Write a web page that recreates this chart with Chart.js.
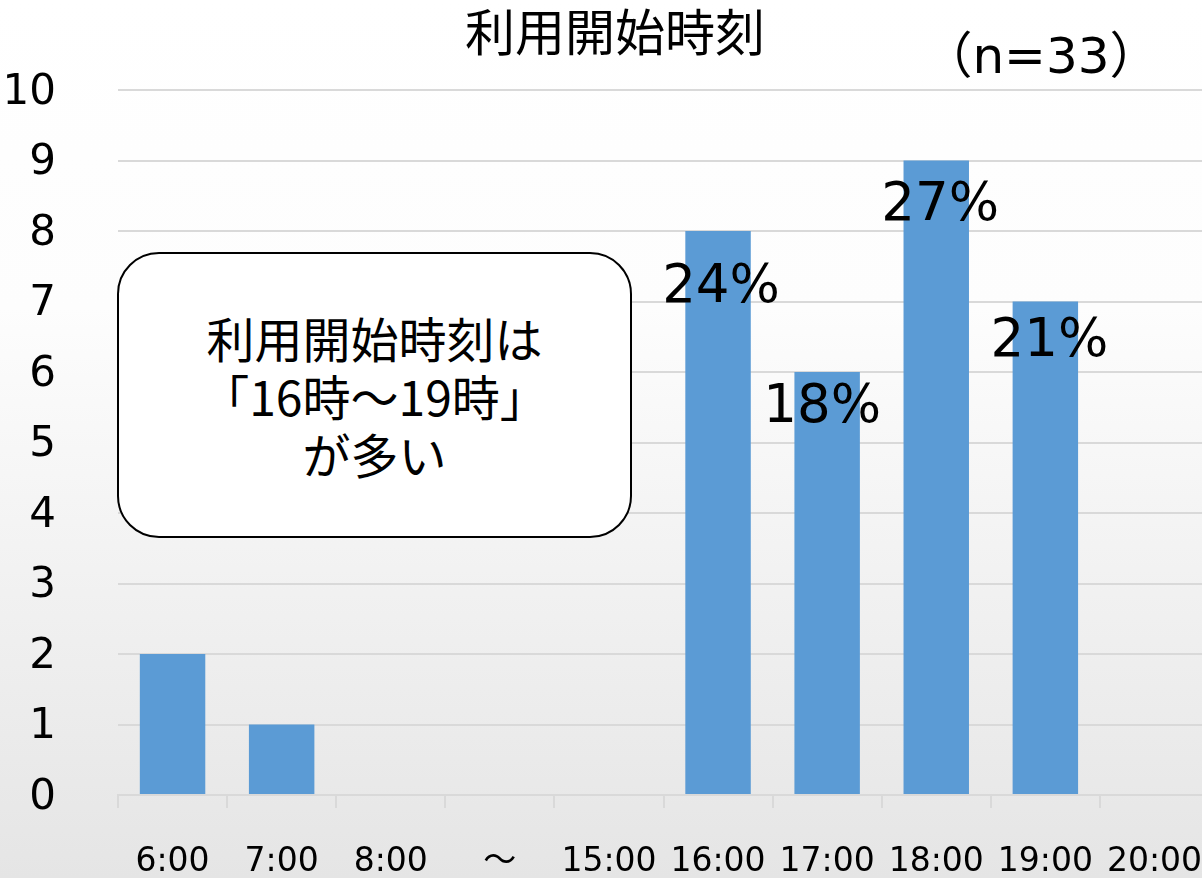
<!DOCTYPE html>
<html lang="ja">
<head>
<meta charset="utf-8">
<script src="https://cdn.jsdelivr.net/npm/chart.js@4.4.1/dist/chart.umd.min.js"></script>
<style>
  html, body { margin: 0; padding: 0; overflow: hidden; }
  #wrap {
    position: relative;
    width: 1202px;
    height: 878px;
    overflow: hidden;
    background: linear-gradient(to bottom, #ffffff 0%, #fdfdfd 35%, #e5e5e5 100%);
  }
  #box {
    position: absolute;
    left: 117px;
    top: 252px;
    width: 511px;
    height: 282px;
    border: 2px solid #000;
    border-radius: 42px;
    background: #fff;
    display: flex;
    align-items: center;
    justify-content: center;
    text-align: center;
    font-family: "Noto Sans CJK JP", sans-serif;
    font-size: 48px;
    line-height: 58px;
    color: #000;
  }
</style>
</head>
<body>
<div id="wrap">
  <canvas id="chart" width="1220" height="878" style="position:absolute;left:0;top:0;width:1220px;height:878px;"></canvas>
  <div id="box"><div>利用開始時刻は<br>「16時～19時」<br>が多い</div></div>
</div>
<script>
// データ
const labels = ['6:00', '7:00', '8:00', '～', '15:00', '16:00', '17:00', '18:00', '19:00', '20:00'];
const counts = [2, 1, 0, 0, 0, 8, 6, 9, 7, 0];
const pctLabels = ['', '', '', '', '', '24%', '18%', '27%', '21%', ''];
const yTicks = [0, 1, 2, 3, 4, 5, 6, 7, 8, 9, 10];

const titleText = '利用開始時刻';
const nText = '（n=33）';

// ラベルの微調整（px）
const labelShift = {5: [3, 71], 6: [-5, 50], 7: [4, 59], 8: [4, 54]};

const gridColor = '#d9d9d9';
const latin = '"DejaVu Sans", "Noto Sans CJK JP", sans-serif';

const extraText = {
  id: 'extraText',
  afterDatasetsDraw(chart) {
    const ctx = chart.ctx;
    const meta = chart.getDatasetMeta(0);
    ctx.save();
    ctx.fillStyle = '#000';
    ctx.textAlign = 'center';
    ctx.textBaseline = 'alphabetic';
    ctx.font = '53px ' + latin;
    meta.data.forEach((bar, i) => {
      if (!pctLabels[i]) return;
      const s = labelShift[i] || [0, 50];
      ctx.fillText(pctLabels[i], bar.x + s[0], bar.y + s[1]);
    });
    ctx.font = '50px "Noto Sans CJK JP", sans-serif';
    ctx.fillText(titleText, 615, 51);
    ctx.font = '50px ' + latin;
    ctx.fillText(nText, 1041, 73);
    ctx.restore();
  }
};

new Chart(document.getElementById('chart'), {
  type: 'bar',
  data: {
    labels: labels,
    datasets: [{
      data: counts,
      backgroundColor: '#5B9BD5',
      barPercentage: 0.6,
      categoryPercentage: 1.0
    }]
  },
  options: {
    responsive: false,
    animation: false,
    layout: { padding: { top: 90, right: 11, left: 0, bottom: 0 } },
    plugins: {
      legend: { display: false },
      title: { display: false },
      tooltip: { enabled: false }
    },
    scales: {
      x: {
        afterFit: (s) => { s.height = 83; s.paddingLeft = 0; s.paddingRight = 0; },
        grid: {
          offset: true,
          drawOnChartArea: false,
          drawTicks: true,
          tickLength: 13,
          color: gridColor,
          lineWidth: 2
        },
        border: { display: true, color: gridColor, width: 2 },
        ticks: {
          color: '#000',
          font: { family: latin, size: 33 },
          padding: 35,
          maxRotation: 0,
          autoSkip: false
        }
      },
      y: {
        min: 0,
        max: 10,
        afterFit: (s) => { s.width = 118; s.paddingTop = 0; s.paddingBottom = 0; },
        afterBuildTicks: (s) => { s.ticks = yTicks.map(v => ({ value: v })); },
        grid: { color: gridColor, lineWidth: 2, drawTicks: false },
        border: { display: false },
        ticks: {
          color: '#000',
          font: { family: latin, size: 42 },
          padding: 62,
          labelOffset: 3
        }
      }
    }
  },
  plugins: [extraText]
});
</script>
</body>
</html>
